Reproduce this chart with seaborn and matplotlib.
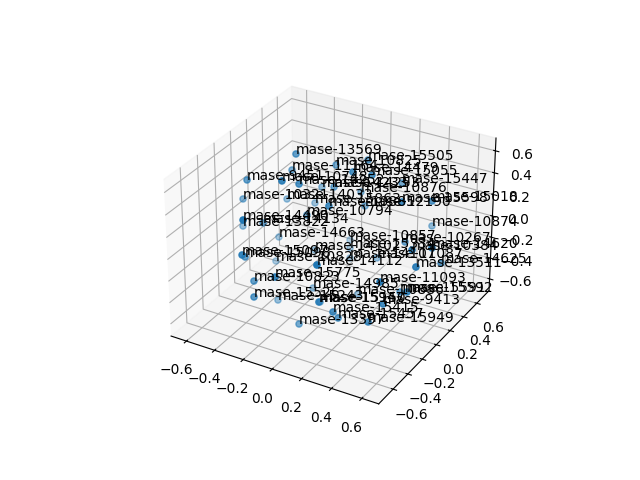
import matplotlib
matplotlib.use("Agg")
import matplotlib.pyplot as plt
import seaborn as sns

labels = ["13569","10825","11164","15505","14479","15055","9451","10748","14252","14233","14253","15447","10876","15018","15598",
"10885","14033","10321","15863","12190","10794","14490","13822","14134","14663","10874","10857","10267","14620","14102","15334",
"10384","11087","14625","13511","15097","15098","10828","14112","14107","15775","10823","11093","14985","15526","15243","15592",
"15591","10886","15947","9413","15415","15457","15949","13397","15150"]
xs = [-.249,-.104,-.339,.104,.138,.216,-.465,-.147,-.135,-.225,-.051,.276,.011,.534,.454,
.076,-.407,-.560,-.271,.082,-.127,-.229,-.577,-.378,-.429,.416,-.102,.398,.682,-.227,-.053,
.605,.149,.636,.652,-.248,-.369,-.438,.217,-.027,-.061,-.286,.522,-.145,-.226,-.292,.616,
.459,.095,.165,.498,.226,.221,.426,-.042,-.026]
ys = [-.006,.241,.106,.261,-.008,.091,-.233,-.370,-.181,.284,.112,.385,.355,.266,.013,
-.199,.161,-.124,.277,.270,-.099,-.698,-.104,-.200,.089,.535,.431,.186,-.043,.192,.336,
-.155,.310,.198,-.197,-.688,-.445,.061,-.621,.284,-.627,-.488,-.409,.008,-.596,-.182,-.236,
-.000,.157,-.500,-.314,-.436,-.360,-.366,-.370,-.123]
zs = [.670,.486,.432,.594,.648,.594,.486,.670,.540,.216,.378,.378,.216,.378,.486,
.432,.108,.216,.054,.162,.216,.486,-.054,.108,-.216,-.054,-.324,.000,.196,-.324,-.324,
.216,-.324,-.108,.108,.162,-.054,-.432,.216,-.378,.000,-.216,.054,-.540,-.270,-.594,-.108,
-.324,-.594,-.216,-.216,-.324,-.432,-.378,-.594,-.540]

sns.reset_orig()
color = sns.color_palette("tab10")[0]
fig = plt.figure(figsize=(6.4, 4.8), dpi=100)
ax = fig.add_subplot(projection="3d")
ax.scatter(xs, ys, zs, color=color)
for name, x, y, z in zip(labels, xs, ys, zs):
    ax.text(x, y, z, "mase-" + name)
ax.set_xlim(-.71, .71)
ax.set_ylim(-.79, .79)
ax.set_zlim(-.715, .715)
fig.savefig("out.png", dpi=100)
